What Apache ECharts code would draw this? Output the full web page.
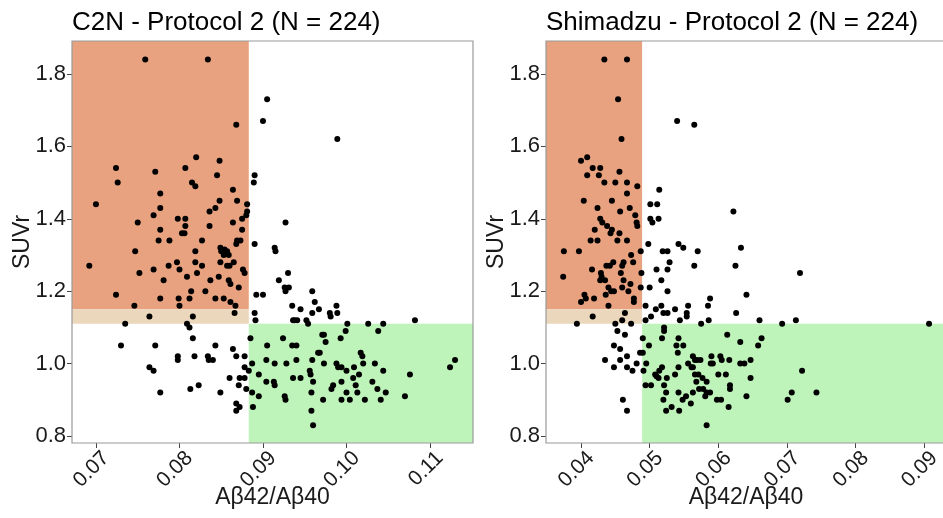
<!DOCTYPE html>
<html>
<head>
<meta charset="utf-8">
<script src="https://cdn.jsdelivr.net/npm/echarts@6/dist/echarts.min.js"></script>
<style>
  html, body { margin: 0; padding: 0; background: #fff; }
  #chart { width: 943px; height: 518px; }
</style>
</head>
<body>
<div id="chart"></div>
<script>
// [Aβ42/Aβ40, SUVr]
const c2nPoints = [
  [0.0759,1.84],[0.0834,1.84],[0.0905,1.73],[0.0900,1.67],[0.0868,1.66],[0.0989,1.62],
  [0.0820,1.57],[0.0848,1.56],[0.0724,1.54],[0.0807,1.54],[0.0845,1.52],[0.0890,1.52],
  [0.0771,1.53],[0.0726,1.50],[0.0815,1.50],[0.0819,1.49],[0.0889,1.50],[0.0864,1.48],
  [0.0777,1.47],[0.0848,1.45],[0.0869,1.45],[0.0700,1.44],[0.0881,1.44],[0.0777,1.43],
  [0.0843,1.43],[0.0769,1.41],[0.0836,1.42],[0.0881,1.42],[0.0880,1.41],[0.0875,1.40],
  [0.0798,1.40],[0.0807,1.40],[0.0807,1.38],[0.0750,1.39],[0.0864,1.39],[0.0836,1.38],
  [0.0777,1.37],[0.0875,1.37],[0.0803,1.36],[0.0806,1.36],[0.0775,1.34],[0.0788,1.34],
  [0.0827,1.34],[0.0869,1.34],[0.0873,1.34],[0.0868,1.33],[0.0890,1.33],[0.0849,1.32],
  [0.0850,1.31],[0.0854,1.315],[0.0857,1.31],[0.0853,1.30],[0.0859,1.30],[0.0914,1.32],
  [0.0915,1.31],[0.0747,1.31],[0.0819,1.31],[0.0769,1.26],[0.0797,1.28],[0.0787,1.27],
  [0.0800,1.26],[0.0819,1.28],[0.0827,1.27],[0.0849,1.28],[0.0857,1.27],[0.0860,1.27],
  [0.0865,1.28],[0.0692,1.27],[0.0752,1.25],[0.0821,1.25],[0.0876,1.26],[0.0878,1.25],
  [0.0781,1.23],[0.0809,1.24],[0.0837,1.23],[0.0847,1.24],[0.0859,1.23],[0.0861,1.22],
  [0.0871,1.21],[0.0814,1.20],[0.0831,1.20],[0.0724,1.19],[0.0746,1.16],[0.0777,1.18],
  [0.0799,1.18],[0.0800,1.16],[0.0812,1.18],[0.0843,1.18],[0.0853,1.18],[0.0861,1.17],
  [0.0867,1.16],[0.0866,1.14],[0.0892,1.19],[0.0900,1.19],[0.0890,1.14],[0.0891,1.12],
  [0.0764,1.13],[0.0816,1.13],[0.0735,1.11],[0.0809,1.11],[0.0812,1.10],[0.0730,1.05],
  [0.0771,1.05],[0.0816,1.07],[0.0843,1.05],[0.0764,0.99],[0.0769,0.98],[0.0798,1.02],
  [0.0798,1.01],[0.0818,1.02],[0.0834,1.02],[0.0835,1.01],[0.0840,1.01],[0.0777,0.92],
  [0.0813,0.93],[0.0823,0.94],[0.0849,0.92],[0.0860,0.96],[0.0864,1.04],[0.0868,1.02],
  [0.0878,1.02],[0.0878,0.99],[0.0872,0.96],[0.0878,0.96],[0.0871,0.94],[0.0880,0.93],
  [0.0868,0.89],[0.0868,0.87],[0.0872,0.88],[0.0885,1.07],[0.0883,0.98],[0.0887,1.00],
  [0.0887,0.92],[0.0888,0.88],[0.0895,0.97],[0.0895,0.91],[0.0905,1.05],[0.0904,1.01],
  [0.0904,0.95],[0.0913,0.95],[0.0914,0.94],[0.0914,1.00],[0.0919,1.23],[0.0930,1.25],
  [0.0926,1.21],[0.0927,1.20],[0.0931,1.21],[0.0927,1.39],[0.0935,1.16],[0.0945,1.15],
  [0.0936,1.12],[0.0938,1.12],[0.0941,1.12],[0.0952,1.12],[0.0954,1.11],[0.0959,1.20],
  [0.0962,1.17],[0.0967,1.15],[0.0959,1.14],[0.0980,1.14],[0.0981,1.13],[0.0988,1.16],
  [0.0989,1.14],[0.1001,1.11],[0.1026,1.11],[0.1044,1.11],[0.1082,1.12],[0.0999,1.09],
  [0.1038,1.09],[0.0993,1.07],[0.0971,1.08],[0.0973,1.08],[0.0975,1.06],[0.0924,1.07],
  [0.0935,1.05],[0.0940,1.05],[0.0966,1.03],[0.0968,1.03],[0.1017,1.03],[0.1019,1.02],
  [0.0940,1.01],[0.0928,1.00],[0.0959,1.01],[0.0973,1.00],[0.0988,1.00],[0.0990,0.99],
  [0.0994,0.99],[0.1000,0.98],[0.1009,0.99],[0.1020,1.00],[0.1034,1.00],[0.1044,0.98],
  [0.1015,0.97],[0.1076,0.97],[0.1124,0.99],[0.1130,1.01],[0.0936,0.96],[0.0945,0.96],
  [0.0956,0.98],[0.0957,0.97],[0.0960,0.95],[0.0994,0.95],[0.1008,0.96],[0.1031,0.95],
  [0.0984,0.94],[0.0982,0.93],[0.1011,0.94],[0.1037,0.93],[0.1000,0.92],[0.1013,0.92],
  [0.1047,0.92],[0.0958,0.92],[0.0926,0.91],[0.0927,0.90],[0.0972,0.90],[0.0994,0.90],
  [0.1004,0.90],[0.1022,0.90],[0.1041,0.90],[0.1070,0.91],[0.0958,0.87],[0.0960,0.83]
];

const shimadzuPoints = [
  [0.0434,1.84],[0.0467,1.84],[0.0454,1.73],[0.0459,1.62],[0.0400,1.56],[0.0409,1.57],
  [0.0417,1.54],[0.0428,1.54],[0.0409,1.52],[0.0426,1.52],[0.0456,1.53],[0.0434,1.50],
  [0.0450,1.50],[0.0467,1.50],[0.0482,1.49],[0.0467,1.47],[0.0404,1.45],[0.0445,1.45],
  [0.0424,1.43],[0.0471,1.43],[0.0457,1.42],[0.0479,1.41],[0.0428,1.40],[0.0431,1.39],
  [0.0438,1.38],[0.0482,1.38],[0.0481,1.39],[0.0445,1.37],[0.0443,1.36],[0.0456,1.36],
  [0.0420,1.37],[0.0414,1.34],[0.0424,1.34],[0.0453,1.34],[0.0467,1.34],[0.0375,1.31],
  [0.0397,1.31],[0.0487,1.31],[0.0473,1.30],[0.0476,1.28],[0.0462,1.28],[0.0460,1.27],
  [0.0447,1.28],[0.0442,1.27],[0.0437,1.27],[0.0416,1.26],[0.0374,1.24],[0.0429,1.25],
  [0.0430,1.24],[0.0458,1.25],[0.0488,1.25],[0.0428,1.23],[0.0435,1.23],[0.0440,1.21],
  [0.0444,1.20],[0.0448,1.20],[0.0462,1.23],[0.0472,1.22],[0.0460,1.21],[0.0487,1.21],
  [0.0500,1.21],[0.0436,1.19],[0.0469,1.20],[0.0477,1.18],[0.0477,1.17],[0.0405,1.19],
  [0.0407,1.18],[0.0400,1.17],[0.0419,1.18],[0.0440,1.16],[0.0417,1.13],[0.0464,1.14],
  [0.0460,1.12],[0.0473,1.11],[0.0394,1.11],[0.0450,1.11],[0.0494,1.16],[0.0502,1.13],
  [0.0494,1.12],[0.0501,1.44],[0.0501,1.40],[0.0504,1.39],[0.0498,1.33],[0.0514,1.48],
  [0.0511,1.44],[0.0513,1.40],[0.0542,1.33],[0.0549,1.32],[0.0570,1.31],[0.0519,1.31],
  [0.0526,1.31],[0.0529,1.28],[0.0565,1.27],[0.0510,1.26],[0.0526,1.26],[0.0517,1.23],
  [0.0526,1.20],[0.0588,1.18],[0.0585,1.16],[0.0517,1.16],[0.0556,1.16],[0.0554,1.14],
  [0.0554,1.13],[0.0509,1.15],[0.0537,1.15],[0.0520,1.14],[0.0526,1.14],[0.0544,1.12],
  [0.0586,1.12],[0.0575,1.11],[0.0626,1.14],[0.0660,1.12],[0.0693,1.11],[0.0713,1.12],
  [0.0907,1.11],[0.0622,1.42],[0.0633,1.32],[0.0625,1.27],[0.0641,1.19],[0.0719,1.25],
  [0.0540,1.67],[0.0565,1.66],[0.0521,1.10],[0.0521,1.09],[0.0613,1.08],[0.0632,1.06],
  [0.0663,1.07],[0.0658,1.05],[0.0490,1.07],[0.0518,1.07],[0.0542,1.07],[0.0499,1.05],
  [0.0539,1.05],[0.0549,1.05],[0.0490,1.03],[0.0486,1.03],[0.0541,1.03],[0.0563,1.02],
  [0.0569,1.01],[0.0574,1.01],[0.0566,1.01],[0.0590,1.02],[0.0589,1.00],[0.0592,1.00],
  [0.0603,1.02],[0.0605,1.01],[0.0616,1.01],[0.0632,1.00],[0.0638,1.00],[0.0647,1.01],
  [0.0495,1.00],[0.0556,1.00],[0.0561,0.99],[0.0563,0.99],[0.0518,0.99],[0.0514,0.98],
  [0.0491,0.98],[0.0542,0.99],[0.0508,0.97],[0.0513,0.96],[0.0510,0.965],[0.0525,0.96],
  [0.0537,0.97],[0.0566,0.97],[0.0571,0.97],[0.0577,0.96],[0.0583,0.95],[0.0568,0.95],
  [0.0600,0.97],[0.0611,0.97],[0.0647,0.96],[0.0494,0.94],[0.0502,0.94],[0.0521,0.94],
  [0.0572,0.93],[0.0578,0.93],[0.0583,0.92],[0.0588,0.92],[0.0617,0.94],[0.0617,0.93],
  [0.0524,0.92],[0.0542,0.92],[0.0563,0.92],[0.0553,0.91],[0.0548,0.90],[0.0520,0.90],
  [0.0581,0.91],[0.0598,0.90],[0.0604,0.90],[0.0641,0.91],[0.0560,0.89],[0.0532,0.88],
  [0.0524,0.87],[0.0543,0.87],[0.0615,0.88],[0.0583,0.83],[0.0701,0.90],[0.0707,0.92],
  [0.0722,0.98],[0.0743,0.92],[0.0453,1.09],[0.0464,1.08],[0.0448,1.05],[0.0457,1.04],
  [0.0435,1.01],[0.0457,1.01],[0.0467,1.02],[0.0448,0.99],[0.0467,0.99],[0.0475,0.98],
  [0.0481,1.00],[0.0461,0.90],[0.0467,0.87]
];

const suvrTicks = [0.8, 1.0, 1.2, 1.4, 1.6, 1.8];
const c2nTicks = [0.07, 0.08, 0.09, 0.10, 0.11];
const shimadzuTicks = [0.04, 0.05, 0.06, 0.07, 0.08, 0.09];

// cut-offs for the shaded zones
const c2nCut = 0.0883;
const shimadzuCut = 0.0489;
const suvrPositive = 1.15;
const suvrNegative = 1.11;

const FONT = "'Liberation Sans', Arial, Helvetica, sans-serif";
const TEXT = "#1a1a1a";
const Y_MIN = 0.7807, Y_MAX = 1.891;

const panels = [
  { title: "C2N - Protocol 2 (N = 224)", points: c2nPoints, ticks: c2nTicks, cut: c2nCut,
    xMin: 0.06713, xMax: 0.11515, left: 72, width: 401 },
  { title: "Shimadzu - Protocol 2 (N = 224)", points: shimadzuPoints, ticks: shimadzuTicks, cut: shimadzuCut,
    xMin: 0.0349, xMax: 0.09317, left: 546, width: 400 }
];

const chart = echarts.init(document.getElementById("chart"), null, { renderer: "canvas" });

const option = {
  animation: false,
  backgroundColor: "#fff",
  textStyle: { fontFamily: FONT },
  title: panels.map(p => ({
    text: p.title,
    left: p.left,
    top: 10,
    padding: 0,
    textStyle: { fontSize: 26, fontWeight: "normal", color: "#000", fontFamily: FONT }
  })),
  grid: panels.map(p => ({
    left: p.left, top: 41, width: p.width, height: 402,
    containLabel: false,
    outerBoundsMode: "none",
    show: true, z: 10,
    backgroundColor: "transparent",
    borderColor: "#9a9a9a", borderWidth: 1.2
  })),
  xAxis: panels.map((p, i) => ({
    type: "value", gridIndex: i, min: p.xMin, max: p.xMax,
    name: "Aβ42/Aβ40", nameLocation: "middle", nameGap: 43,
    nameMoveOverlap: false,
    nameTextStyle: { fontSize: 23, color: TEXT, fontFamily: FONT },
    axisLine: { show: false },
    splitLine: { show: false },
    axisTick: { show: true, length: 5, customValues: p.ticks, lineStyle: { color: "#444" } },
    axisLabel: {
      customValues: p.ticks, rotate: 45, fontSize: 21, color: TEXT, margin: 2,
      align: "right", verticalAlign: "top", lineHeight: 28,
      formatter: v => v.toFixed(2)
    }
  })),
  yAxis: panels.map((p, i) => ({
    type: "value", gridIndex: i, min: Y_MIN, max: Y_MAX,
    name: "SUVr", nameLocation: "middle", nameGap: 38,
    nameMoveOverlap: false,
    nameTextStyle: { fontSize: 23, color: TEXT, fontFamily: FONT },
    axisLine: { show: false },
    splitLine: { show: false },
    axisTick: { show: true, length: 5, customValues: suvrTicks, lineStyle: { color: "#444" } },
    axisLabel: {
      customValues: suvrTicks, fontSize: 22, color: TEXT, margin: 6,
      formatter: v => v.toFixed(1)
    }
  })),
  series: panels.map((p, i) => ({
    type: "scatter",
    xAxisIndex: i, yAxisIndex: i,
    data: p.points,
    symbolSize: 6,
    itemStyle: { color: "#000", opacity: 1 },
    silent: true,
    markArea: {
      silent: true,
      data: [
        [{ coord: [p.xMin, suvrPositive], itemStyle: { color: "#E9A27F" } }, { coord: [p.cut, Y_MAX] }],
        [{ coord: [p.xMin, suvrNegative], itemStyle: { color: "#EBD7BC" } }, { coord: [p.cut, suvrPositive] }],
        [{ coord: [p.cut, Y_MIN], itemStyle: { color: "#BEF4B9" } }, { coord: [p.xMax, suvrNegative] }]
      ]
    }
  }))
};

chart.setOption(option);
</script>
</body>
</html>
